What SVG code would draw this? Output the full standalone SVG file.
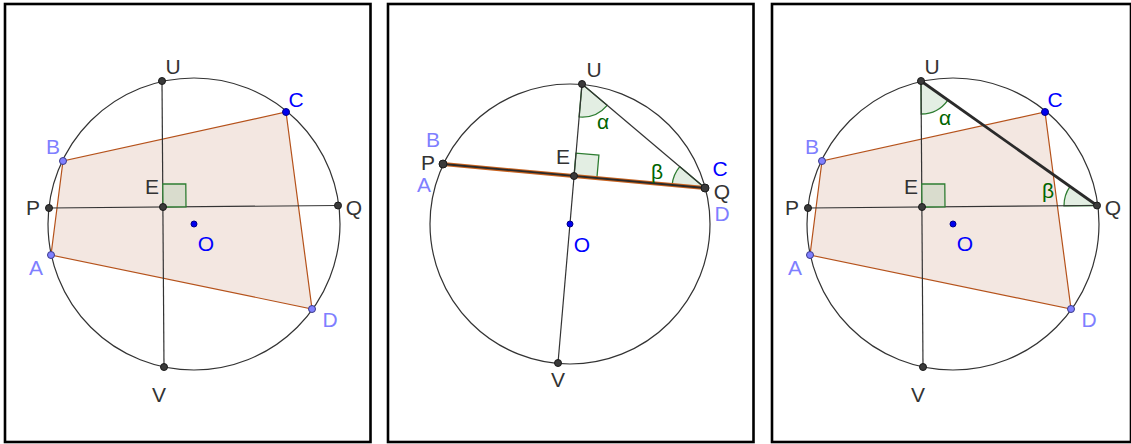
<svg xmlns="http://www.w3.org/2000/svg" width="1131" height="444" viewBox="0 0 1131 444">
<style>
.frame{fill:#fff;stroke:#000;stroke-width:2.6}
.circ{fill:none;stroke:#333;stroke-width:1.2}
.ln{fill:none;stroke:#333;stroke-width:1.2}
.quad{fill:#f2e4de;fill-opacity:0.9;stroke:#b5521b;stroke-width:1.2}
.ra{fill:#d9dccd;stroke:#2e7d32;stroke-width:1.3}
.ang{fill:#e3eee3;stroke:#2e7d32;stroke-width:1.3}
.pt{fill:#3a3a3a;stroke:#1a1a1a;stroke-width:1}
.ptl{fill:#8080ff;stroke:#3a3a8a;stroke-width:1}
.ptb{fill:#0000ee;stroke:#00008a;stroke-width:1}
text{font-family:"Liberation Sans",Arial,sans-serif;font-size:21px;text-anchor:middle}
.t{fill:#333}
.tl{fill:#7f7fff}
.tb{fill:#0000ff}
.tg{fill:#006400}
</style>
<g id="frames">
<rect class="frame" x="5" y="4" width="365.5" height="438"/>
<rect class="frame" x="388" y="4" width="365.5" height="438"/>
<rect class="frame" x="772" y="4" width="359" height="438"/>
</g>
<g id="panel1">
<circle class="circ" cx="194" cy="224" r="146"/>
<polygon class="quad" points="51,255 63,161 286,112 312,309"/>
<g id="connectors1">
<line class="ln" x1="162" y1="81" x2="164" y2="367"/>
<line class="ln" x1="49" y1="208" x2="338" y2="205.5"/>
</g>
<polygon class="ra" points="163,207 186,206.8 185.8,183.8 162.8,184"/>
<circle class="pt" cx="162" cy="81" r="3.5"/>
<circle class="pt" cx="164" cy="367" r="3.5"/>
<circle class="pt" cx="49" cy="208" r="3.5"/>
<circle class="pt" cx="338" cy="205.5" r="3.5"/>
<circle class="pt" cx="163" cy="207" r="3.5"/>
<circle class="ptl" cx="51" cy="255" r="3.5"/>
<circle class="ptl" cx="63" cy="161" r="3.5"/>
<circle class="ptb" cx="286" cy="112" r="3.5"/>
<circle class="ptl" cx="312" cy="309" r="3.5"/>
<circle class="ptb" cx="194" cy="224" r="3"/>
<text class="t" x="173" y="74">U</text>
<text class="tb" x="296" y="107">C</text>
<text class="tl" x="53" y="154">B</text>
<text class="t" x="152" y="194">E</text>
<text class="t" x="33" y="215">P</text>
<text class="t" x="354" y="215">Q</text>
<text class="tb" x="206" y="251">O</text>
<text class="tl" x="36" y="275">A</text>
<text class="tl" x="330" y="327">D</text>
<text class="t" x="159" y="402">V</text>
</g>
<g id="panel2">
<circle class="circ" cx="570" cy="224" r="140"/>
<path class="ang" d="M582,84 L579.1,116.9 A33,33 0 0 0 607.2,105.3 Z"/>
<path class="ang" d="M705,188 L672.1,185 A33,33 0 0 1 679.8,166.7 Z"/>
<polygon class="ang" points="574,176 596.9,178.1 598.9,155.2 576,153.1"/>
<g id="connectors2">
<line class="ln" x1="582" y1="84" x2="558" y2="363"/>
<line class="ln" x1="582" y1="84" x2="705" y2="188"/>
<line x1="443" y1="164" x2="705" y2="188" stroke="#c8621e" stroke-width="4"/>
<line x1="443" y1="164" x2="705" y2="188" stroke="#2a2a2a" stroke-width="1.8"/>
</g>
<circle class="pt" cx="582" cy="84" r="3.5"/>
<circle class="pt" cx="558" cy="363" r="3.5"/>
<circle class="pt" cx="443" cy="164" r="4"/>
<circle class="pt" cx="705" cy="188" r="4"/>
<circle class="pt" cx="574" cy="176" r="3.5"/>
<circle class="ptb" cx="570" cy="224" r="3"/>
<text class="t" x="594" y="77">U</text>
<text class="tl" x="433" y="147">B</text>
<text class="t" x="428" y="170">P</text>
<text class="tl" x="424" y="192">A</text>
<text class="t" x="563" y="164">E</text>
<text class="tg" x="603" y="129">α</text>
<text class="tg" x="657" y="179">β</text>
<text class="tb" x="720" y="176">C</text>
<text class="t" x="722" y="199">Q</text>
<text class="tl" x="722" y="221">D</text>
<text class="tb" x="582" y="252">O</text>
<text class="t" x="558" y="387">V</text>
</g>
<g id="panel3">
<circle class="circ" cx="953" cy="224" r="146"/>
<polygon class="quad" points="810,255 822,161 1045,112 1071,309"/>
<path class="ang" d="M921,81 L921.2,114 A33,33 0 0 0 947.9,100.1 Z"/>
<path class="ang" d="M1097,205.5 L1064,205.8 A33,33 0 0 1 1070.1,186.4 Z"/>
<g id="connectors3">
<line class="ln" x1="921" y1="81" x2="923" y2="367"/>
<line class="ln" x1="808" y1="208" x2="1097" y2="205.5"/>
<line x1="921" y1="81" x2="1097" y2="205.5" stroke="#2a2a2a" stroke-width="2.8"/>
</g>
<polygon class="ra" points="922,207 945,206.8 944.8,183.8 921.8,184"/>
<circle class="pt" cx="921" cy="81" r="3.5"/>
<circle class="pt" cx="923" cy="367" r="3.5"/>
<circle class="pt" cx="808" cy="208" r="3.5"/>
<circle class="pt" cx="1097" cy="205.5" r="3.5"/>
<circle class="pt" cx="922" cy="207" r="3.5"/>
<circle class="ptl" cx="810" cy="255" r="3.5"/>
<circle class="ptl" cx="822" cy="161" r="3.5"/>
<circle class="ptb" cx="1045" cy="112" r="3.5"/>
<circle class="ptl" cx="1071" cy="309" r="3.5"/>
<circle class="ptb" cx="953" cy="224" r="3"/>
<text class="t" x="932" y="74">U</text>
<text class="tb" x="1055" y="107">C</text>
<text class="tl" x="812" y="154">B</text>
<text class="t" x="911" y="194">E</text>
<text class="t" x="792" y="215">P</text>
<text class="t" x="1113" y="215">Q</text>
<text class="tb" x="965" y="251">O</text>
<text class="tl" x="795" y="275">A</text>
<text class="tl" x="1089" y="327">D</text>
<text class="t" x="918" y="402">V</text>
<text class="tg" x="945" y="125">α</text>
<text class="tg" x="1048" y="198">β</text>
</g>
</svg>
